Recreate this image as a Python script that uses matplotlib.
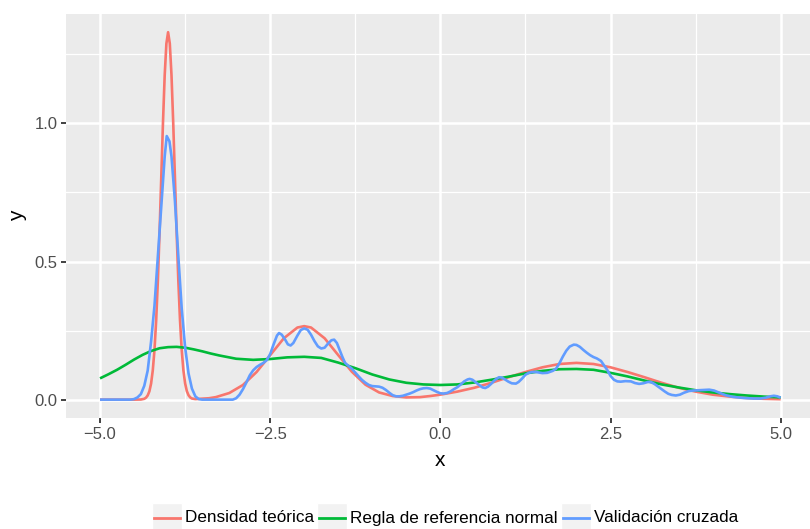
import matplotlib
matplotlib.use("Agg")
import matplotlib.pyplot as plt
from matplotlib.lines import Line2D
from matplotlib.patches import Rectangle

# Densidad teórica (mezcla de tres normales)
teo_x = [-5.0, -4.5, -4.4, -4.35, -4.325, -4.3, -4.275, -4.25, -4.225, -4.2, -4.175,
         -4.15, -4.125, -4.1, -4.075, -4.05, -4.025, -4.0, -3.975, -3.95, -3.925,
         -3.9, -3.875, -3.85, -3.825, -3.8, -3.775, -3.75, -3.725, -3.7, -3.675,
         -3.65, -3.6, -3.4, -3.3, -3.1, -2.9, -2.7, -2.5, -2.3, -2.1, -2.0, -1.9,
         -1.7, -1.5, -1.3, -1.1, -0.9, -0.7, -0.5, -0.3, -0.15, 0.0, 0.25, 0.5,
         0.75, 1.0, 1.25, 1.5, 1.75, 2.0, 2.25, 2.5, 2.75, 3.0, 3.25, 3.5, 3.75,
         4.0, 4.25, 4.5, 4.75, 5.0]
teo_y = [0.0, 0.0, 0.0004, 0.003, 0.007, 0.015, 0.030, 0.058, 0.106, 0.180, 0.288,
         0.433, 0.609, 0.807, 1.004, 1.174, 1.289, 1.330, 1.289, 1.174, 1.004,
         0.807, 0.609, 0.433, 0.288, 0.180, 0.106, 0.059, 0.031, 0.016, 0.008,
         0.004, 0.002, 0.005, 0.009, 0.024, 0.053, 0.100, 0.161, 0.222, 0.261, 0.266, 0.261,
         0.222, 0.161, 0.101, 0.054, 0.026, 0.013, 0.008, 0.009, 0.013, 0.018, 0.029, 0.043,
         0.061, 0.081, 0.100, 0.117, 0.129, 0.133, 0.129, 0.117, 0.100, 0.081, 0.061, 0.043, 0.029,
         0.018, 0.011, 0.006, 0.003, 0.0015]

# Regla de referencia normal
nrd_x = [-5.0, -4.875, -4.75, -4.625, -4.5, -4.375, -4.25, -4.125, -4.0, -3.875,
         -3.75, -3.625, -3.5, -3.375, -3.25, -3.0, -2.75, -2.5, -2.25, -2.0, -1.75,
         -1.5, -1.25, -1.0, -0.75, -0.5, -0.25, 0.0, 0.25, 0.5, 0.75, 1.0, 1.25,
         1.5, 1.75, 2.0, 2.25, 2.5, 2.75, 3.0, 3.25, 3.5, 3.75, 4.0, 4.25, 4.5,
         4.75, 5.0]
nrd_y = [0.077, 0.092, 0.108, 0.126, 0.145, 0.162, 0.176, 0.186, 0.190, 0.191,
         0.188, 0.182, 0.175, 0.167, 0.160, 0.148, 0.144, 0.147, 0.153, 0.155, 0.151,
         0.134, 0.114, 0.091, 0.073, 0.061, 0.055, 0.053, 0.055, 0.062, 0.072, 0.083, 0.095,
         0.104, 0.110, 0.111, 0.108, 0.097, 0.084, 0.069, 0.055, 0.044, 0.034, 0.026, 0.020, 0.015,
         0.011, 0.008]

# Validación cruzada
cv_x = [-5.0, -4.55, -4.5, -4.45, -4.4, -4.35, -4.3, -4.25, -4.2, -4.15, -4.1, -4.05,
        -4.02, -3.98, -3.95, -3.9, -3.85, -3.8, -3.75, -3.7, -3.65, -3.6, -3.55, -3.5,
        -3.05, -3.0, -2.95, -2.9, -2.85, -2.8, -2.75, -2.7, -2.65, -2.6, -2.55, -2.5,
        -2.45, -2.4, -2.37, -2.33, -2.28, -2.24, -2.2, -2.16, -2.1, -2.05, -2.0, -1.95,
        -1.9, -1.85, -1.8, -1.75, -1.7, -1.65, -1.6, -1.56, -1.52, -1.48, -1.44, -1.4,
        -1.35, -1.3, -1.25, -1.2, -1.15, -1.1, -1.05, -1.0, -0.95, -0.9, -0.85, -0.8,
        -0.75, -0.7, -0.65, -0.6, -0.55, -0.5, -0.45, -0.4, -0.35, -0.3, -0.25, -0.2,
        -0.15, -0.1, -0.05, 0.0, 0.05, 0.1, 0.15, 0.2, 0.25, 0.3, 0.35, 0.4, 0.43,
        0.47, 0.52, 0.57, 0.62, 0.66, 0.7, 0.75, 0.8, 0.86, 0.9, 0.95, 1.0, 1.05,
        1.11, 1.15, 1.2, 1.25, 1.3, 1.35, 1.4, 1.45, 1.5, 1.57, 1.65, 1.7, 1.75,
        1.8, 1.85, 1.9, 1.96, 2.0, 2.05, 2.1, 2.15, 2.2, 2.25, 2.3, 2.36, 2.4, 2.45,
        2.5, 2.55, 2.6, 2.65, 2.72, 2.8, 2.86, 2.92, 2.98, 3.05, 3.1, 3.15, 3.2, 3.25,
        3.3, 3.35, 3.4, 3.46, 3.52, 3.58, 3.65, 3.72, 3.8, 3.88, 3.95, 4.02, 4.1, 4.19,
        4.3, 4.45, 4.6, 4.7, 4.78, 4.85, 4.9, 4.95, 5.0]
cv_y = [0.0, 0.0, 0.002, 0.008, 0.020, 0.050, 0.105, 0.210, 0.340, 0.520, 0.700, 0.880,
        0.954, 0.935, 0.880, 0.720, 0.520, 0.330, 0.190, 0.095, 0.040, 0.012, 0.002, 0.0,
        0.0, 0.005, 0.018, 0.038, 0.062, 0.088, 0.106, 0.118, 0.126, 0.133, 0.143, 0.165,
        0.200, 0.232, 0.241, 0.235, 0.217, 0.200, 0.196, 0.205, 0.232, 0.252, 0.258, 0.253,
        0.235, 0.212, 0.193, 0.185, 0.188, 0.203, 0.215, 0.217, 0.205, 0.180, 0.155, 0.133,
        0.122, 0.112, 0.098, 0.084, 0.071, 0.061, 0.053, 0.049, 0.048, 0.047, 0.043, 0.035,
        0.025, 0.016, 0.012, 0.012, 0.014, 0.018, 0.022, 0.027, 0.033, 0.038, 0.041, 0.042,
        0.040, 0.034, 0.028, 0.023, 0.022, 0.024, 0.030, 0.038, 0.045, 0.055, 0.066, 0.073, 0.075,
        0.072, 0.063, 0.053, 0.044, 0.042, 0.047, 0.058, 0.071, 0.081, 0.080, 0.073, 0.065, 0.059,
        0.058, 0.064, 0.076, 0.090, 0.097, 0.100, 0.100, 0.098, 0.096, 0.097, 0.104, 0.112, 0.132,
        0.156, 0.177, 0.192, 0.199, 0.198, 0.191, 0.180, 0.170, 0.161, 0.154, 0.149, 0.140, 0.126, 0.108,
        0.086, 0.072, 0.066, 0.065, 0.067, 0.066, 0.060, 0.057, 0.059, 0.064, 0.063, 0.056, 0.047, 0.038,
        0.029, 0.021, 0.017, 0.015, 0.018, 0.025, 0.031, 0.033, 0.034, 0.035, 0.036, 0.033, 0.025, 0.016,
        0.010, 0.006, 0.004, 0.004, 0.007, 0.012, 0.014, 0.012, 0.007]

series = [
    ("Densidad teórica", teo_x, teo_y, "#F8766D"),
    ("Regla de referencia normal", nrd_x, nrd_y, "#00BA38"),
    ("Validación cruzada", cv_x, cv_y, "#619CFF"),
]

x_ticks = [-5.0, -2.5, 0.0, 2.5, 5.0]
y_ticks = [0.0, 0.5, 1.0]

plt.rcParams["font.family"] = ["Liberation Sans", "DejaVu Sans"]

W, H = 810, 529
fig = plt.figure(figsize=(W / 100, H / 100), dpi=100)

# panel in pixel coordinates (left, right, top, bottom)
pl, pr, pt, pb = 66, 814.7, 13.7, 418
ax = fig.add_axes([pl / W, 1 - pb / H, (pr - pl) / W, (pb - pt) / H])
ax.set_facecolor("#EBEBEB")
for s in ax.spines.values():
    s.set_visible(False)

for name, xs, ys, col in series:
    ax.plot(xs, ys, color=col, lw=1.9, solid_joinstyle="round", solid_capstyle="butt")

ax.set_xlim(-5.5, 5.5)
ax.set_ylim(-0.0665, 1.397)
ax.set_xticks(x_ticks)
ax.set_xticklabels([f"{v:.1f}".replace("-", "\u2212") for v in x_ticks])
ax.set_yticks(y_ticks)
ax.set_yticklabels([f"{v:.1f}" for v in y_ticks])
ax.set_xticks([-3.75, -1.25, 1.25, 3.75], minor=True)
ax.set_yticks([0.25, 0.75, 1.25], minor=True)
ax.grid(True, which="major", color="white", lw=1.8)
ax.grid(True, which="minor", color="white", lw=0.9)
ax.set_axisbelow(True)
ax.tick_params(which="major", length=3.8, width=1.3, color="#333333",
               labelcolor="#4D4D4D", labelsize=12, pad=2.5)
ax.tick_params(which="minor", length=0)

fig.text(440 / W, 1 - 460 / H, "x", ha="center", va="center", fontsize=15)
fig.text(18 / W, 1 - 216 / H, "y", ha="center", va="center", fontsize=15, rotation=90)

# legend at the bottom, drawn piece by piece
renderer = fig.canvas.get_renderer()
key_w, key_h = 30, 30
ly = 518
cursor = 152
for name, xs, ys, col in series:
    fig.patches.append(Rectangle((cursor / W, 1 - (ly + key_h / 2) / H), key_w / W, key_h / H,
                                 transform=fig.transFigure, facecolor="#F2F2F2",
                                 edgecolor="white", lw=1, figure=fig))
    fig.lines.append(Line2D([(cursor + 2) / W, (cursor + key_w - 2) / W], [1 - ly / H, 1 - ly / H],
                            transform=fig.transFigure, color=col, lw=2.0, figure=fig))
    t = fig.text((cursor + key_w + 3) / W, 1 - ly / H, name, ha="left", va="center",
                 fontsize=12.3)
    bb = t.get_window_extent(renderer)
    cursor = bb.x1 + 3

fig.savefig("out.png", dpi=100)
